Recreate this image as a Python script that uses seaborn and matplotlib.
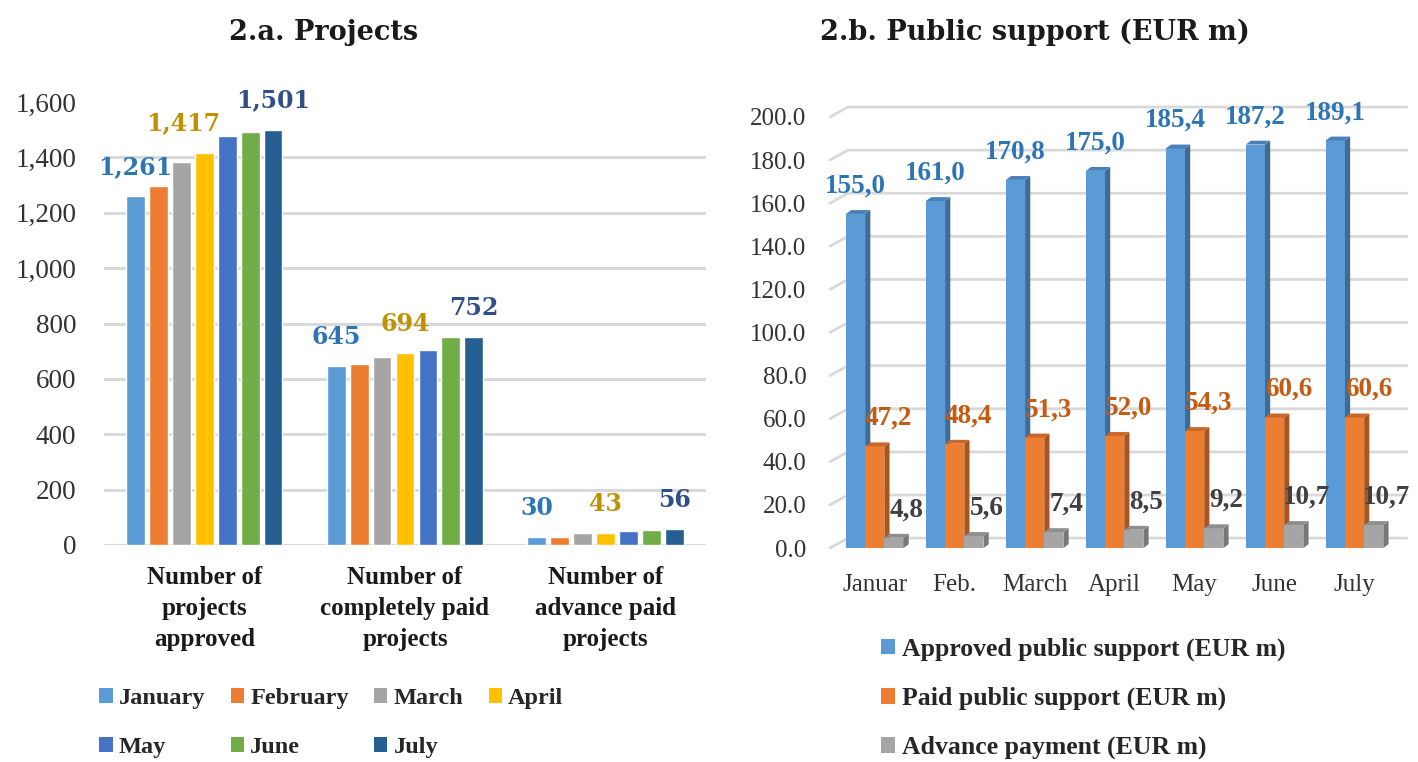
import numpy as np
import pandas as pd
import matplotlib
matplotlib.use('Agg')
import matplotlib.pyplot as plt
import seaborn as sns
from matplotlib.patches import Patch, Polygon

# 2.a. Projects
months = ['January', 'February', 'March', 'April', 'May', 'June', 'July']
project_cats = ['Number of\nprojects\napproved',
                'Number of\ncompletely paid\nprojects',
                'Number of\nadvance paid\nprojects']
approved_projects = [1261, 1296, 1384, 1417, 1477, 1493, 1501]
paid_projects = [645, 655, 680, 694, 705, 752, 752]
advance_projects = [30, 30, 42, 43, 49, 55, 56]
month_colors = ['#5B9BD5', '#ED7D31', '#A5A5A5', '#FFC000', '#4472C4', '#70AD47', '#255E91']

# 2.b. Public support (EUR m)
month_ticks = ['Januar', 'Feb.', 'March', 'April', 'May', 'June', 'July']
support_series = ['Approved public support (EUR m)', 'Paid public support (EUR m)',
                  'Advance payment (EUR m)']
approved_support = [155.0, 161.0, 170.8, 175.0, 185.4, 187.2, 189.1]
paid_support = [47.2, 48.4, 51.3, 52.0, 54.3, 60.6, 60.6]
advance_support = [4.8, 5.6, 7.4, 8.5, 9.2, 10.7, 10.7]
support_colors = ['#5B9BD5', '#ED7D31', '#A5A5A5']
side_colors = ['#3F6B95', '#A9561E', '#787878']
top_colors = ['#4A80B8', '#C9662A', '#8E8E8E']
support_label_colors = ['#2E75B6', '#C55A11', '#404040']

sns.set_style('white')
plt.rcParams['font.family'] = ['Liberation Serif', 'DejaVu Serif']

fig = plt.figure(figsize=(14.18, 7.62), dpi=100)
ax1 = fig.add_axes([0.0733, 0.2848, 0.4246, 0.5812])
ax2 = fig.add_axes([0.5853, 0.2808, 0.3942, 0.5657])

grid_col = '#D9D9D9'
tick_col = '#333333'

# ---------------- left panel ----------------
df_a = pd.DataFrame({
    'category': np.repeat(project_cats, len(months)),
    'month': months * len(project_cats),
    'value': approved_projects + paid_projects + advance_projects,
})
sns.barplot(data=df_a, x='category', y='value', hue='month', order=project_cats,
            hue_order=months, palette=month_colors, saturation=1, width=0.8,
            gap=0.18, errorbar=None, legend=False, ax=ax1, zorder=3)

ax1.set_ylim(0, 1600)
ax1.set_xlim(-0.5, 2.5)
yt = np.arange(0, 1601, 200)
ax1.set_yticks(yt)
ax1.set_yticklabels([f'{v:,}' for v in yt], fontsize=19.5, color=tick_col)
for v in yt[:-1]:
    ax1.axhline(v, color=grid_col, lw=2.2, zorder=1)
ax1.set_xlabel('')
ax1.set_ylabel('')
ax1.set_xticks(range(len(project_cats)))
ax1.set_xticklabels(project_cats, fontsize=18, fontweight='bold', color='#1A1A1A',
                    linespacing=1.45)
ax1.tick_params(axis='y', length=0, pad=20)
ax1.tick_params(axis='x', length=0, pad=15)
sns.despine(ax=ax1, left=True, bottom=True)

label_cols_a = {0: '#2E75B6', 3: '#BF9000', 6: '#2F4F8A'}
label_dx_a = {0: 0, 3: -15, 6: 0}
for i, col in label_cols_a.items():
    for k, bar in enumerate(ax1.containers[i]):
        h = bar.get_height()
        dx = label_dx_a[i] if k == 0 else 0
        ax1.annotate(f'{int(h):,}', (bar.get_x() + bar.get_width() / 2, h),
                     xytext=(dx, 21), textcoords='offset points', ha='center',
                     va='center', fontsize=17, fontweight='bold', color=col,
                     family='DejaVu Serif', zorder=5)

handles = [Patch(facecolor=c, edgecolor='none') for c in month_colors]
order = [0, 4, 1, 5, 2, 6, 3]
ax1.legend([handles[i] for i in order], [months[i] for i in order],
           ncol=4, loc='upper left', bbox_to_anchor=(0.070, 0.097),
           bbox_transform=fig.transFigure, frameon=False,
           prop={'weight': 'bold', 'size': 17.5}, handlelength=0.55,
           handleheight=0.55, handletextpad=0.25, columnspacing=1.05,
           labelspacing=1.15, borderpad=0, borderaxespad=0)

# ---------------- right panel ----------------
df_b = pd.DataFrame({
    'month': month_ticks * len(support_series),
    'series': np.repeat(support_series, len(month_ticks)),
    'value': approved_support + paid_support + advance_support,
})
sns.barplot(data=df_b, x='month', y='value', hue='series', order=month_ticks,
            hue_order=support_series, palette=support_colors, saturation=1,
            width=0.72, errorbar=None, legend=False, ax=ax2)

ax2.set_ylim(0, 200)
ax2.set_xlim(-0.56, 6.43)
yt2 = np.arange(0, 201, 20)
ax2.set_yticks(yt2)
ax2.set_yticklabels([f'{v:.1f}' for v in yt2], fontsize=18, color=tick_col)
ax2.set_xticks(range(len(month_ticks)))
ax2.set_xticklabels(month_ticks, fontsize=18, color=tick_col)
ax2.set_xlabel('')
ax2.set_ylabel('')
ax2.tick_params(axis='y', length=0, pad=17)
ax2.tick_params(axis='x', length=0, pad=19)
sns.despine(ax=ax2, left=True, bottom=True)

# back wall grid with a short floor slant, as in the 3-D original
gdx, gdy = 0.225, 4.6
x0, x1 = ax2.get_xlim()
for v in yt2:
    ax2.plot([x0, x0 + gdx, x1 + gdx], [v, v + gdy, v + gdy], color=grid_col,
             lw=2, clip_on=False, zorder=0.5)

# 3-D faces for each bar
bdx, bdy = 0.065, 1.8
for j, cont in enumerate(ax2.containers):
    for bar in cont:
        bx, bw, bh = bar.get_x(), bar.get_width(), bar.get_height()
        z = 3 + j * 0.1
        bar.set_zorder(z)
        bar.set_edgecolor('none')
        side = Polygon([(bx + bw, 0), (bx + bw + bdx, bdy), (bx + bw + bdx, bh + bdy),
                        (bx + bw, bh)], closed=True, facecolor=side_colors[j],
                       edgecolor='none', zorder=z, clip_on=False)
        top = Polygon([(bx, bh), (bx + bdx, bh + bdy), (bx + bw + bdx, bh + bdy),
                       (bx + bw, bh)], closed=True, facecolor=top_colors[j],
                      edgecolor='none', zorder=z, clip_on=False)
        ax2.add_patch(side)
        ax2.add_patch(top)
        dx = [0, 10, 9][j]
        ax2.annotate(f'{bh:.1f}'.replace('.', ','), (bx + bw / 2, bh),
                     xytext=(dx, 20), textcoords='offset points', ha='center',
                     va='center', fontsize=19.5, fontweight='bold',
                     color=support_label_colors[j], zorder=6, annotation_clip=False)

handles2 = [Patch(facecolor=c, edgecolor='none') for c in support_colors]
ax2.legend(handles2, support_series, loc='upper left', bbox_to_anchor=(0.621, 0.163),
           bbox_transform=fig.transFigure, frameon=False,
           prop={'weight': 'bold', 'size': 18.5}, handlelength=0.55,
           handleheight=0.55, handletextpad=0.3, labelspacing=1.0,
           borderpad=0, borderaxespad=0)

# titles
fig.text(0.228, 0.958, '2.a. Projects', ha='center', va='center', fontsize=19.5,
         fontweight='bold', family='DejaVu Serif', color='#1A1A1A')
fig.text(0.730, 0.958, '2.b. Public support (EUR m)', ha='center', va='center',
         fontsize=19.5, fontweight='bold', family='DejaVu Serif', color='#1A1A1A')

fig.savefig('out.png', dpi=100)
